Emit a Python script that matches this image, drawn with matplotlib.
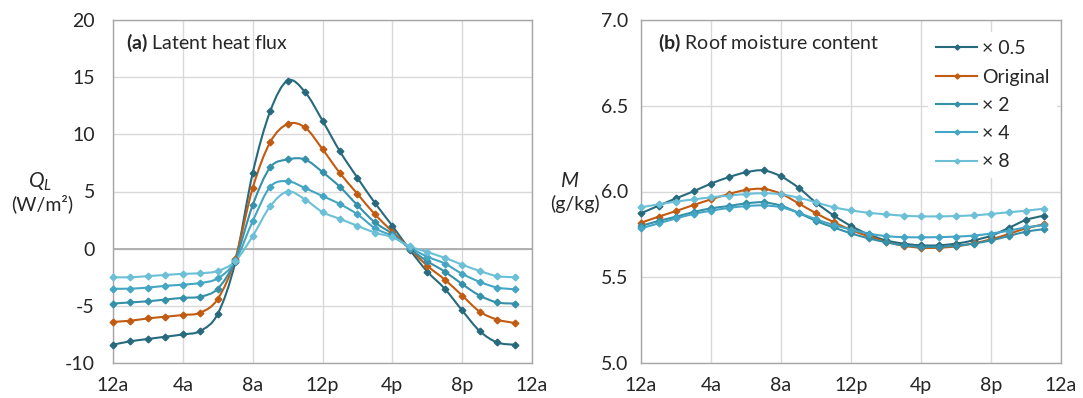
import matplotlib
matplotlib.use("Agg")
import matplotlib.pyplot as plt
from matplotlib.path import Path
from matplotlib.patches import PathPatch
from matplotlib.lines import Line2D

plt.rcParams['font.family'] = ['Lato', 'DejaVu Sans']
plt.rcParams['axes.unicode_minus'] = False
plt.rcParams['mathtext.fontset'] = 'custom'
plt.rcParams['mathtext.it'] = 'Lato:italic'
plt.rcParams['mathtext.rm'] = 'Lato'
plt.rcParams['mathtext.bf'] = 'Lato:bold'

# hours of the day (0 = midnight)
hours = list(range(24))

series_labels = ['× 0.5', 'Original', '× 2', '× 4', '× 8']
series_colors = ['#276a7e', '#c25b12', '#3590a9', '#44a6c4', '#6bbfd6']

# (a) latent heat flux, W/m2
ql_half = [-8.4, -8.1, -7.9, -7.7, -7.5, -7.2, -5.7, -1.2, 6.6, 12.0, 14.7, 13.7,
           11.2, 8.5, 6.2, 4.0, 2.0, -0.1, -2.0, -3.5, -5.4, -7.2, -8.2, -8.4]
ql_orig = [-6.4, -6.3, -6.1, -5.95, -5.8, -5.6, -4.4, -0.9, 5.3, 9.3, 10.9, 10.6,
           8.7, 6.6, 4.8, 3.0, 1.5, 0.0, -1.5, -2.7, -4.1, -5.5, -6.2, -6.5]
ql_x2 = [-4.8, -4.7, -4.6, -4.45, -4.3, -4.2, -3.5, -1.0, 3.8, 7.1, 7.8, 7.8,
         6.7, 5.4, 3.8, 2.3, 1.3, 0.0, -1.1, -2.0, -3.1, -4.1, -4.7, -4.8]
ql_x4 = [-3.5, -3.5, -3.4, -3.25, -3.15, -3.0, -2.6, -1.1, 2.4, 5.4, 5.9, 5.3,
         4.6, 3.9, 3.0, 1.8, 1.1, 0.1, -0.7, -1.3, -2.2, -2.9, -3.4, -3.55]
ql_x8 = [-2.5, -2.5, -2.4, -2.3, -2.2, -2.15, -1.95, -1.1, 1.1, 3.7, 5.0, 4.3,
         3.2, 2.6, 2.0, 1.4, 1.0, 0.2, -0.3, -0.8, -1.4, -1.95, -2.4, -2.5]

# (b) roof moisture content, g/kg
m_half = [5.873, 5.917, 5.960, 6.001, 6.046, 6.083, 6.112, 6.123, 6.088, 6.022, 5.935, 5.861,
          5.799, 5.750, 5.715, 5.696, 5.686, 5.686, 5.696, 5.715, 5.742, 5.787, 5.834, 5.859]
m_orig = [5.818, 5.853, 5.886, 5.921, 5.954, 5.985, 6.009, 6.015, 5.987, 5.931, 5.873, 5.822,
          5.776, 5.739, 5.707, 5.684, 5.672, 5.672, 5.680, 5.698, 5.721, 5.752, 5.785, 5.808]
m_x2 = [5.799, 5.828, 5.853, 5.880, 5.902, 5.915, 5.931, 5.937, 5.917, 5.876, 5.828, 5.791,
        5.756, 5.727, 5.704, 5.686, 5.678, 5.678, 5.684, 5.696, 5.715, 5.740, 5.766, 5.780]
m_x4 = [5.785, 5.814, 5.843, 5.869, 5.888, 5.904, 5.915, 5.919, 5.908, 5.876, 5.838, 5.805,
        5.778, 5.755, 5.740, 5.734, 5.733, 5.734, 5.737, 5.743, 5.755, 5.771, 5.791, 5.803]
m_x8 = [5.908, 5.925, 5.941, 5.954, 5.966, 5.976, 5.985, 5.990, 5.984, 5.964, 5.937, 5.908,
        5.890, 5.876, 5.867, 5.859, 5.855, 5.855, 5.857, 5.861, 5.869, 5.879, 5.888, 5.900]

x_ticks = [0, 4, 8, 12, 16, 20, 24]
x_ticklabels = ['12a', '4a', '8a', '12p', '4p', '8p', '12a']
ql_ticks = [-10, -5, 0, 5, 10, 15, 20]
m_ticks = [5.0, 5.5, 6.0, 6.5, 7.0]

GRID = '#d9d9d9'
FRAME = '#a6a6a6'
TXT = '#262626'
FS = 14

fig = plt.figure(figsize=(10.83, 3.98), dpi=100)
ax1 = fig.add_axes([113 / 1083, 1 - 363 / 398, 419 / 1083, 343 / 398])
ax2 = fig.add_axes([641 / 1083, 1 - 363 / 398, 420 / 1083, 343 / 398])


def style(ax, yticks, ylabels, ypad):
    ax.set_xlim(0, 24)
    ax.set_xticks(x_ticks)
    ax.set_xticklabels(x_ticklabels)
    ax.set_ylim(yticks[0], yticks[-1])
    ax.set_yticks(yticks)
    ax.set_yticklabels(ylabels)
    ax.grid(True, color=GRID, linewidth=1.0)
    ax.set_axisbelow(True)
    for s in ax.spines.values():
        s.set_color(FRAME)
        s.set_linewidth(1.0)
    ax.tick_params(axis='both', length=0, labelsize=FS, colors=TXT)
    ax.tick_params(axis='x', pad=10)
    ax.tick_params(axis='y', pad=ypad)


def smooth_line(ax, xs, ys, color):
    # Excel-style smoothed line: cubic Bezier segments through every point
    n = len(xs)
    verts = [(xs[0], ys[0])]
    codes = [Path.MOVETO]
    for i in range(n - 1):
        x0, y0 = xs[max(i - 1, 0)], ys[max(i - 1, 0)]
        x1, y1 = xs[i], ys[i]
        x2, y2 = xs[i + 1], ys[i + 1]
        x3, y3 = xs[min(i + 2, n - 1)], ys[min(i + 2, n - 1)]
        c1 = (x1 + (x2 - x0) / 6, y1 + (y2 - y0) / 6)
        c2 = (x2 - (x3 - x1) / 6, y2 - (y3 - y1) / 6)
        verts += [c1, c2, (x2, y2)]
        codes += [Path.CURVE4] * 3
    ax.add_patch(PathPatch(Path(verts, codes), fill=False, edgecolor=color,
                           linewidth=1.5, zorder=3, capstyle='round', joinstyle='round'))
    ax.plot(xs, ys, linestyle='none', marker='D', markersize=3.4, color=color,
            zorder=4, clip_on=False)


style(ax1, ql_ticks, [str(t) for t in ql_ticks], 13)
style(ax2, m_ticks, ['%.1f' % t for t in m_ticks], 9)
ax1.axhline(0, color=FRAME, linewidth=1.2, zorder=1)

for vals, col in zip([ql_half, ql_orig, ql_x2, ql_x4, ql_x8], series_colors):
    smooth_line(ax1, hours, vals, col)

for vals, col in zip([m_half, m_orig, m_x2, m_x4, m_x8], series_colors):
    smooth_line(ax2, hours, vals, col)

ax1.text(0.031, 0.933, r'$\mathbf{(a)}$ Latent heat flux', transform=ax1.transAxes,
         fontsize=FS, color=TXT, va='center', ha='left')
ax2.text(0.04, 0.933, r'$\mathbf{(b)}$ Roof moisture content', transform=ax2.transAxes,
         fontsize=FS, color=TXT, va='center', ha='left')

fig.text(40 / 1083, 1 - 182 / 398, r'$Q_L$', fontsize=15, ha='center', va='center', color=TXT)
fig.text(42 / 1083, 1 - 204 / 398, '(W/m²)', fontsize=FS, ha='center', va='center', color=TXT)
fig.text(570 / 1083, 1 - 181 / 398, r'$M$', fontsize=15, ha='center', va='center', color=TXT)
fig.text(575 / 1083, 1 - 204 / 398, '(g/kg)', fontsize=FS, ha='center', va='center', color=TXT)

handles = [Line2D([], [], color=c, linewidth=1.5, marker='D', markersize=2.6) for c in series_colors]
leg = ax2.legend(handles, series_labels, loc='upper right', bbox_to_anchor=(1.0, 0.975),
                 frameon=True, fontsize=FS, handlelength=2.1, handletextpad=0.25,
                 labelspacing=0.58, borderaxespad=0.2)
leg.get_frame().set_edgecolor('none')
leg.get_frame().set_facecolor('white')
leg.get_frame().set_alpha(1.0)
for t in leg.get_texts():
    t.set_color(TXT)

fig.savefig('out.png', dpi=100, facecolor='white')
